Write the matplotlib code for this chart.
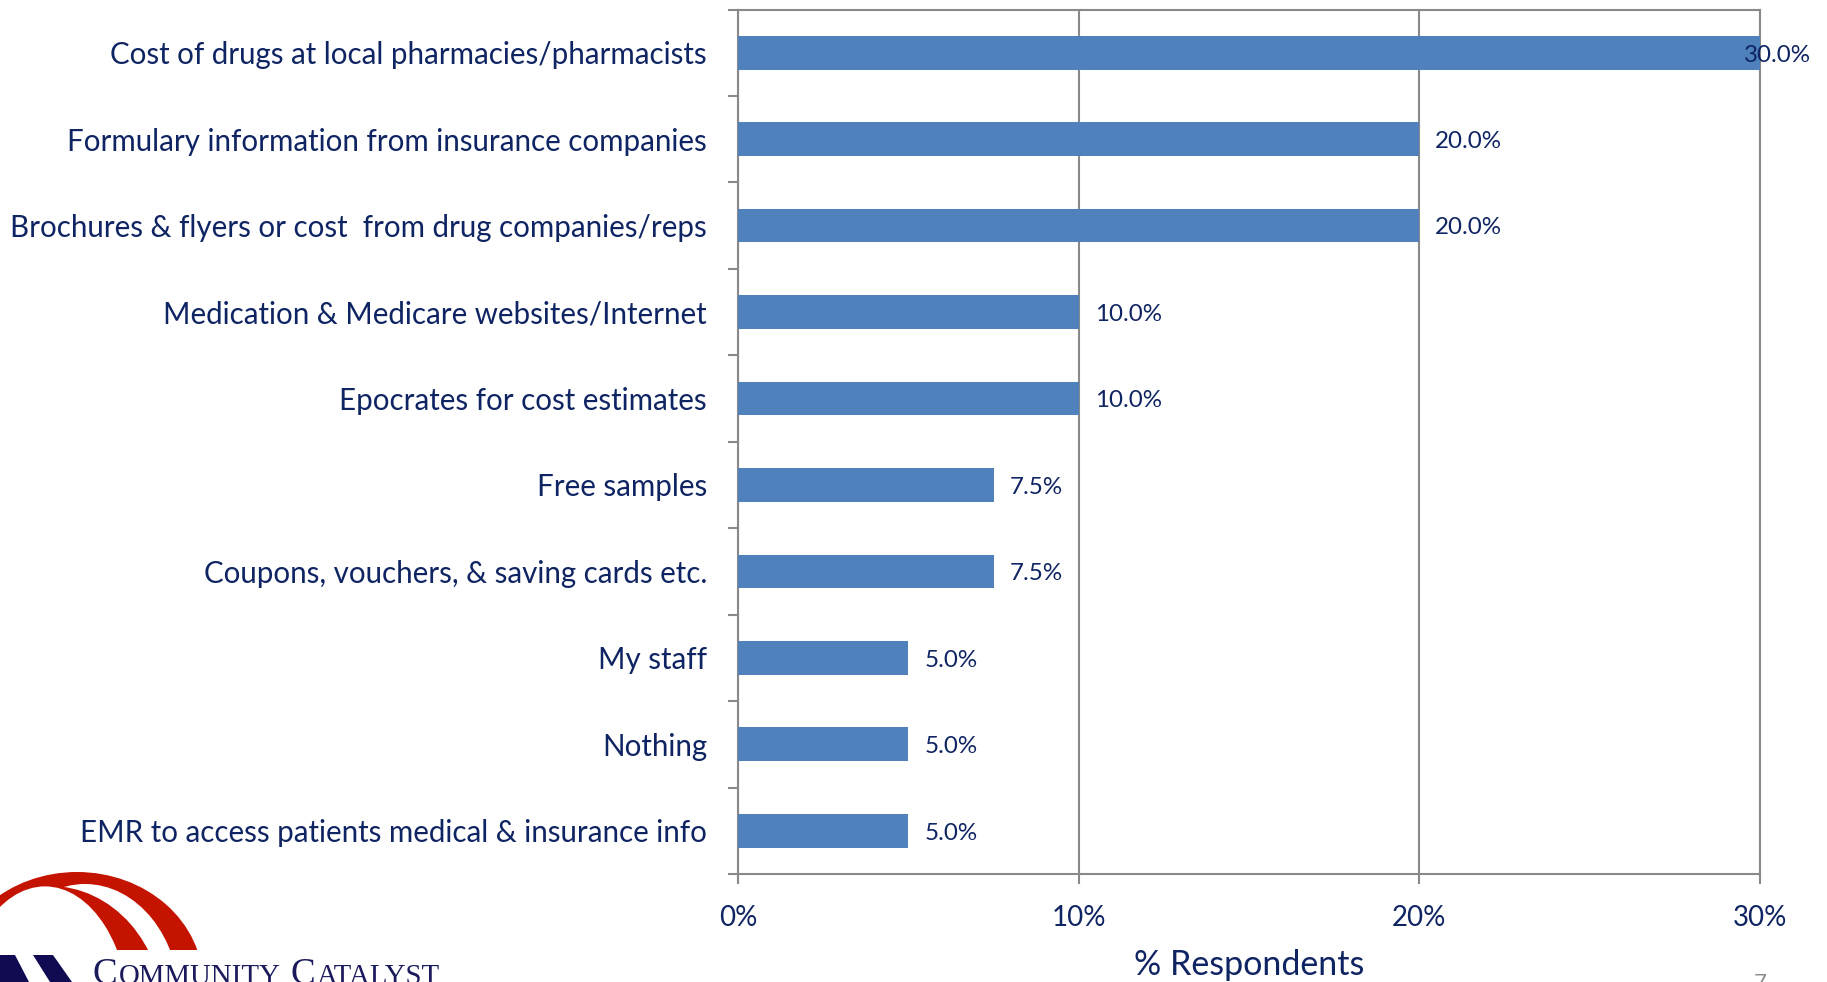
import numpy as np
from matplotlib import pyplot as plt
from matplotlib.patches import Ellipse, Polygon, Rectangle

categories = [
    "Cost of drugs at local pharmacies/pharmacists",
    "Formulary information from insurance companies",
    "Brochures & flyers or cost  from drug companies/reps",
    "Medication & Medicare websites/Internet",
    "Epocrates for cost estimates",
    "Free samples",
    "Coupons, vouchers, & saving cards etc.",
    "My staff",
    "Nothing",
    "EMR to access patients medical & insurance info",
]
values = [30.0, 20.0, 20.0, 10.0, 10.0, 7.5, 7.5, 5.0, 5.0, 5.0]
x_ticks = [0, 10, 20, 30]
x_tick_labels = ["0%", "10%", "20%", "30%"]
x_label = "% Respondents"
logo_words = ["Community", "Catalyst"]
page_number = "7"

W, H = 1827, 982
TEXT = "#0F2462"
BAR = "#4F81BD"
AXIS = "#898989"
FONT = "Lato"

fig = plt.figure(figsize=(W / 100, H / 100), dpi=100)
renderer = fig.canvas.get_renderer()


def px_width(text, size, family=FONT):
    t = fig.text(0, 0, text, fontsize=size, family=family)
    w = t.get_window_extent(renderer).width
    t.remove()
    return w


def fit_size(text, target_px, family=FONT):
    return 20 * target_px / px_width(text, 20, family)


# font sizes fitted to the measured widths in the reference
cat_size = fit_size(categories[2], 697)
val_size = fit_size("20.0%", 67)
tick_size = fit_size("30%", 54)
xlab_size = fit_size(x_label, 231)

# plot area in pixels
left, right, top, bottom = 738, 1760, 9.5, 874
ax = fig.add_axes([left / W, 1 - bottom / H, (right - left) / W, (bottom - top) / H])

y = np.arange(len(categories))
ax.barh(y, values, height=0.39, color=BAR, zorder=3)
ax.set_xlim(x_ticks[0], x_ticks[-1])
ax.set_ylim(len(categories) - 0.5, -0.5)

ax.set_xticks(x_ticks)
ax.set_xticklabels(x_tick_labels, fontsize=tick_size, color=TEXT, family=FONT)
ax.tick_params(axis="x", direction="out", length=7, width=1.5, color=AXIS, pad=15.5)

# ticks between categories, labels on the categories
ax.set_yticks(np.arange(len(categories) + 1) - 0.5)
ax.set_yticklabels([])
ax.tick_params(axis="y", which="major", direction="out", length=7, width=1.5, color=AXIS)
ax.set_yticks(y, minor=True)
ax.set_yticklabels(categories, minor=True, fontsize=cat_size, color=TEXT, family=FONT)
ax.tick_params(axis="y", which="minor", length=0, pad=22.3)

ax.xaxis.grid(True, color=AXIS, linewidth=1.5)
ax.set_axisbelow(True)
for s in ax.spines.values():
    s.set_color(AXIS)
    s.set_linewidth(1.5)

for i, v in enumerate(values):
    dx = -11.5 if v >= x_ticks[-1] else 11.5
    ax.annotate(
        f"{v:.1f}%",
        (v, i),
        xytext=(dx, -1.7),
        textcoords="offset points",
        ha="left",
        va="center",
        fontsize=val_size,
        color=TEXT,
        family=FONT,
        zorder=4,
    )

ax.set_xlabel(x_label, fontsize=xlab_size, color=TEXT, family=FONT, va="center")
ax.xaxis.set_label_coords(0.5, -(965 - bottom) / (bottom - top))

# logo, drawn in pixel coordinates
lax = fig.add_axes([0, 0, 1, 1])
lax.set_xlim(0, W)
lax.set_ylim(H, 0)
lax.axis("off")

clip = Rectangle((0, 0), W, 950, transform=lax.transData)
arcs = [
    ((77, 983, 126, 111), "#C41400"),
    ((85, 1003, 95, 119), "white"),
    ((50, 1015, 113.5, 129), "#C41400"),
    ((45, 1022, 85, 135.6), "white"),
]
for (cx, cy, rx, ry), color in arcs:
    e = Ellipse((cx, cy), 2 * rx, 2 * ry, facecolor=color, edgecolor="none")
    lax.add_patch(e)
    e.set_clip_path(clip)

navy = "#100A52"
lax.add_patch(Polygon([(0, 955), (15, 955), (29, 982), (0, 982)], color=navy, lw=0))
lax.add_patch(Polygon([(33, 955), (53, 955), (72, 982), (50, 982)], color=navy, lw=0))


def small_caps(words):
    pieces = []
    for k, wd in enumerate(words):
        pieces.append((wd[0].upper(), 1.0, k > 0))
        pieces.append((wd[1:].upper(), 0.78, False))
    return pieces


def layout(size, x0, base, draw=False):
    x = x0
    for text, scale, gap in small_caps(logo_words):
        if gap:
            x += 0.22 * size * 100 / 72
        t = lax.text(x, base, text, fontsize=size * scale, family="Liberation Serif",
                     color="#1A1A5C", ha="left", va="baseline")
        w = t.get_window_extent(renderer).width
        if not draw:
            t.remove()
        x += w + 0.04 * size * 100 / 72
    return x - x0


logo_size = 20 * 349 / layout(20, 93, 990)
layout(logo_size, 93, 960 + 0.655 * logo_size * 100 / 72, draw=True)

lax.text(1760, 973, page_number, fontsize=16, color="#8C8C8C", family=FONT,
         ha="center", va="top")

fig.savefig("out.png", dpi=100)
